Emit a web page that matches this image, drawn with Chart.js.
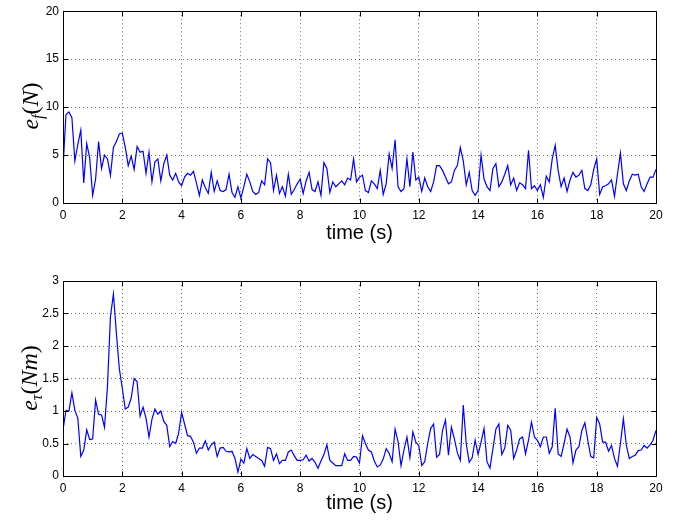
<!DOCTYPE html>
<html>
<head>
<meta charset="utf-8">
<script src="https://cdn.jsdelivr.net/npm/chart.js@4/dist/chart.umd.min.js"></script>
<style>
  body { margin: 0; background: #fff; }
  #wrap { position: relative; width: 678px; height: 522px; }
  canvas { position: absolute; left: 0; }
  .ylab {
    position: absolute; font-family: "Liberation Serif", "DejaVu Serif", serif;
    font-size: 24px; white-space: nowrap; transform: translate(-50%, -50%) rotate(-90deg);
    color: #000;
  }
  .ylab i { font-style: italic; }
  .ylab sub { font-size: 16px; vertical-align: -5px; line-height: 0; }
</style>
</head>
<body>
<div id="wrap">
  <canvas id="top" width="678" height="261" style="top:0"></canvas>
  <canvas id="bottom" width="678" height="261" style="top:261px"></canvas>
  <div class="ylab" style="left:30px; top:106px"><i>e</i><sub><i>f</i></sub>(<i>N</i>)</div>
  <div class="ylab" style="left:29px; top:378px"><i>e</i><sub><i>τ</i></sub>(<i>Nm</i>)</div>
</div>
<script>
const timeStep = 0.1;

const forceError = [
  3.7, 9.2, 9.5, 8.9, 4.4, 6.1, 7.6, 2.1, 6.2, 4.7,
  0.8, 2.5, 6.4, 3.6, 5.0, 4.6, 2.9, 5.8, 6.4, 7.2,
  7.3, 5.8, 3.9, 4.9, 3.5, 5.9, 5.3, 5.4, 3.1, 5.3,
  2.2, 4.3, 4.6, 2.3, 4.1, 5.0, 2.9, 2.4, 3.1, 2.2,
  1.8, 2.7, 3.1, 2.9, 3.3, 2.1, 0.8, 2.4, 1.6, 1.0,
  3.2, 1.2, 2.3, 1.3, 1.2, 1.4, 3.0, 1.1, 0.6, 1.7,
  0.5, 1.7, 3.0, 2.2, 1.2, 0.9, 1.1, 2.3, 1.9, 4.6,
  4.2, 1.3, 2.9, 1.0, 1.7, 0.7, 3.0, 0.9, 1.4, 2.0,
  2.5, 1.0, 2.3, 3.2, 1.4, 1.2, 2.2, 0.8, 4.2, 3.6,
  1.1, 2.2, 1.7, 2.0, 2.3, 1.9, 2.6, 2.4, 4.6, 2.2,
  2.7, 2.9, 1.3, 1.1, 2.3, 2.0, 1.5, 3.4, 0.9, 2.0,
  5.1, 3.6, 6.6, 1.7, 1.2, 1.5, 4.6, 1.7, 5.3, 2.4,
  2.7, 1.2, 2.6, 1.7, 1.2, 2.2, 3.9, 3.9, 3.4, 2.7,
  2.0, 2.2, 3.4, 3.9, 5.8, 4.4, 1.9, 3.2, 1.3, 0.8,
  1.3, 5.0, 2.5, 1.7, 1.3, 3.6, 4.1, 1.7, 2.2, 3.0,
  3.9, 1.9, 2.6, 1.3, 2.1, 1.9, 1.5, 5.5, 1.5, 1.8,
  1.3, 1.9, 0.6, 2.8, 2.2, 4.6, 6.0, 3.4, 1.7, 2.6,
  1.2, 2.4, 3.2, 2.7, 2.9, 3.4, 1.5, 1.3, 1.9, 3.5,
  4.6, 0.9, 1.7, 1.8, 2.0, 2.4, 0.7, 3.0, 5.2, 2.0,
  1.3, 2.3, 3.0, 2.9, 3.0, 1.7, 1.2, 2.0, 2.7, 2.7,
  3.5
];

const torqueError = [
  0.71, 1.01, 1.0, 1.28, 1.01, 0.89, 0.30, 0.40, 0.71, 0.56,
  0.57, 1.17, 0.95, 0.94, 0.75, 1.38, 2.45, 2.8, 2.2, 1.65,
  1.35, 1.03, 1.06, 1.2, 1.5, 1.45, 0.92, 1.06, 0.89, 0.6,
  0.87, 1.03, 0.95, 1.0, 0.84, 0.78, 0.45, 0.53, 0.5, 0.66,
  0.98, 0.8, 0.62, 0.61, 0.52, 0.35, 0.43, 0.43, 0.54, 0.40,
  0.48, 0.52, 0.3, 0.43, 0.44, 0.38, 0.37, 0.38, 0.27, 0.06,
  0.26, 0.2, 0.42, 0.27, 0.33, 0.3, 0.27, 0.24, 0.15, 0.44,
  0.42, 0.24, 0.34, 0.19, 0.24, 0.24, 0.37, 0.4, 0.31, 0.24,
  0.24, 0.25, 0.32, 0.23, 0.27, 0.21, 0.12, 0.23, 0.33, 0.48,
  0.24, 0.2, 0.16, 0.16, 0.16, 0.34, 0.24, 0.24, 0.3, 0.29,
  0.2, 0.62, 0.5, 0.4, 0.37, 0.23, 0.14, 0.17, 0.26, 0.42,
  0.35, 0.22, 0.72, 0.53, 0.16, 0.4, 0.6, 0.28, 0.68, 0.52,
  0.47, 0.16, 0.22, 0.5, 0.73, 0.8, 0.29, 0.33, 0.7, 0.86,
  0.32, 0.75, 0.57, 0.36, 0.24, 1.09, 0.5, 0.21, 0.28, 0.55,
  0.33, 0.52, 0.73, 0.22, 0.12, 0.42, 0.72, 0.8, 0.33, 0.43,
  0.78, 0.7, 0.27, 0.4, 0.57, 0.6, 0.34, 0.55, 0.83, 0.6,
  0.55, 0.45, 0.6, 0.6, 0.35, 0.45, 1.04, 0.34, 0.3, 0.5,
  0.72, 0.6, 0.2, 0.4, 0.45, 0.7, 0.82, 0.55, 0.3, 0.28,
  0.9, 0.8, 0.52, 0.52, 0.38, 0.47, 0.27, 0.15, 0.5, 0.88,
  0.47, 0.27, 0.3, 0.32, 0.39, 0.4, 0.47, 0.43, 0.48, 0.55,
  0.7
];

const timeTicks = [0, 2, 4, 6, 8, 10, 12, 14, 16, 18, 20];
const forceTicks = [0, 5, 10, 15, 20];
const torqueTicks = [0, 0.5, 1, 1.5, 2, 2.5, 3];

const tickFont = { family: "'Liberation Sans', Arial, sans-serif", size: 12 };
const titleFont = { family: "'Liberation Sans', Arial, sans-serif", size: 20 };

// black box + inward tick marks, matlab style
const framePlugin = {
  id: "frame",
  afterDraw(chart) {
    const { ctx, chartArea: a, scales } = chart;
    const l = Math.round(a.left) + 0.5, r = Math.round(a.right) + 0.5;
    const t = Math.round(a.top) + 0.5, b = Math.round(a.bottom) + 0.5;
    ctx.save();
    ctx.strokeStyle = "#000";
    ctx.lineWidth = 1;
    ctx.beginPath();
    scales.x.ticks.forEach((tk) => {
      const px = Math.round(scales.x.getPixelForValue(tk.value)) + 0.5;
      ctx.moveTo(px, b); ctx.lineTo(px, b - 5);
      ctx.moveTo(px, t); ctx.lineTo(px, t + 5);
    });
    scales.y.ticks.forEach((tk) => {
      const py = Math.round(scales.y.getPixelForValue(tk.value)) + 0.5;
      ctx.moveTo(l, py); ctx.lineTo(l + 5, py);
      ctx.moveTo(r, py); ctx.lineTo(r - 5, py);
    });
    ctx.stroke();
    ctx.strokeRect(l, t, r - l, b - t);
    ctx.restore();
  },
};

function makeChart(id, values, yTicks, yMax, padTop, xAxisHeight, titlePad) {
  new Chart(document.getElementById(id), {
    type: "line",
    data: {
      datasets: [
        {
          data: values.map((v, i) => ({ x: i * timeStep, y: v })),
          borderColor: "#0000ff",
          borderWidth: 1.2,
          pointRadius: 0,
          tension: 0,
          fill: false,
        },
      ],
    },
    options: {
      responsive: false,
      animation: false,
      events: [],
      layout: { padding: { top: padTop, right: 22, left: 0, bottom: 0 } },
      plugins: { legend: { display: false }, tooltip: { enabled: false } },
      scales: {
        x: {
          type: "linear",
          min: 0,
          max: 20,
          afterBuildTicks: (s) => { s.ticks = timeTicks.map((v) => ({ value: v })); },
          afterFit: (s) => { s.height = xAxisHeight; },
          ticks: { font: tickFont, color: "#000", padding: 5, maxRotation: 0, autoSkip: false,
                   callback: (v) => String(v) },
          grid: { color: "rgba(0,0,0,0.55)", drawTicks: false, lineWidth: 1 },
          border: { display: false, dash: [1, 3] },
          title: { display: true, text: "time (s)", font: titleFont, color: "#000", padding: { top: 0, bottom: titlePad } },
        },
        y: {
          min: 0,
          max: yMax,
          afterBuildTicks: (s) => { s.ticks = yTicks.map((v) => ({ value: v })); },
          afterFit: (s) => { s.width = 63; },
          ticks: { font: tickFont, color: "#000", padding: 4, callback: (v) => String(v) },
          grid: { color: "rgba(0,0,0,0.55)", drawTicks: false, lineWidth: 1 },
          border: { display: false, dash: [1, 3] },
        },
      },
    },
    plugins: [framePlugin],
  });
}

makeChart("top", forceError, forceTicks, 20, 8, 58, 16);
makeChart("bottom", torqueError, torqueTicks, 3, 20, 46, 7);
</script>
</body>
</html>
